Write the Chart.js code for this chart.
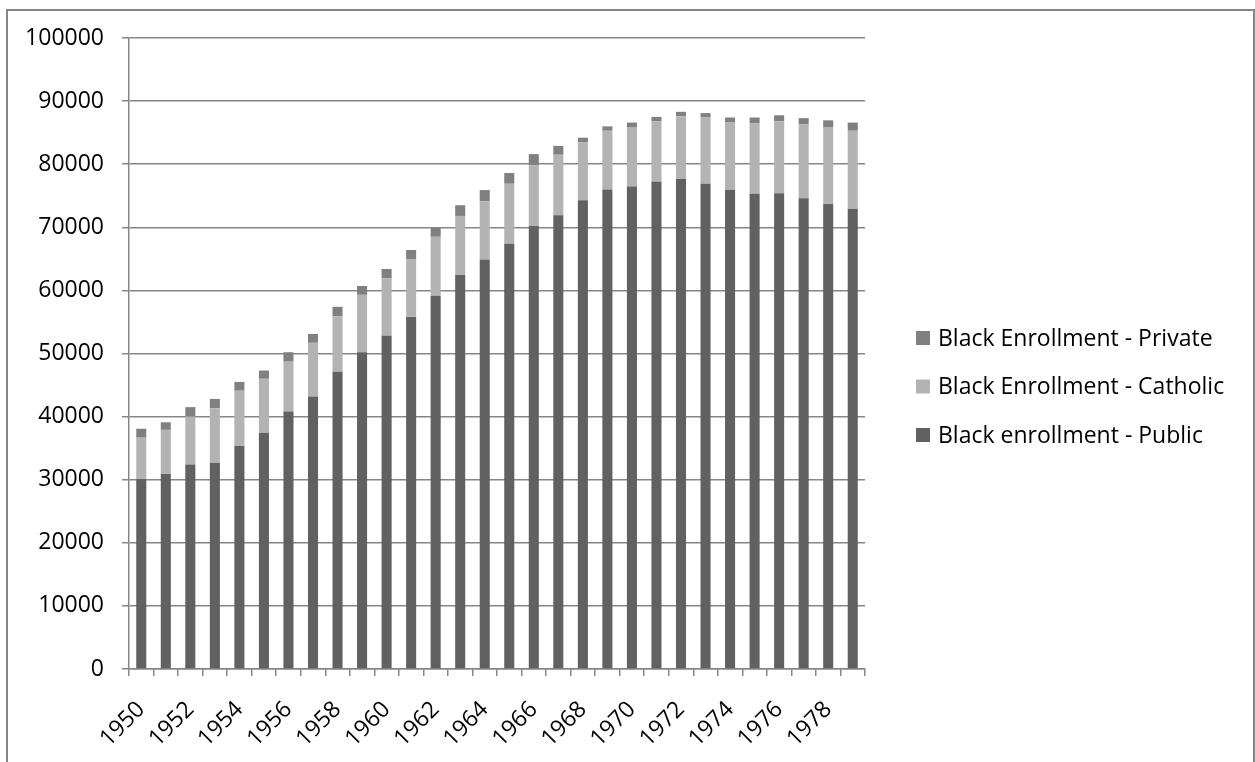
<!DOCTYPE html>
<html>
<head>
<meta charset="utf-8">
<script src="https://cdn.jsdelivr.net/npm/chart.js@4"></script>
<style>
  html, body { margin: 0; padding: 0; background: #ffffff; }
  #wrap { position: relative; width: 1255px; height: 762px; }
  canvas { display: block; }
</style>
</head>
<body>
<div id="wrap"><canvas id="c" width="1255" height="762"></canvas></div>
<script>
const years = ['1950','1951','1952','1953','1954','1955','1956','1957','1958','1959',
  '1960','1961','1962','1963','1964','1965','1966','1967','1968','1969',
  '1970','1971','1972','1973','1974','1975','1976','1977','1978','1979'];

const publicVals = [30100,30900,32400,32700,35400,37450,40800,43200,47100,50200,
  52800,55800,59150,62500,64900,67400,70200,71900,74300,76000,
  76450,77200,77650,76900,75950,75300,75400,74600,73700,72950];

const catholicVals = [6560,7000,7600,8600,8700,8550,7900,8500,8800,9100,
  9100,9100,9350,9300,9200,9500,9600,9600,9200,9300,
  9350,9600,9950,10500,10650,11200,11400,11700,12100,12350];

const privateVals = [1420,1200,1500,1500,1400,1300,1500,1400,1500,1400,
  1500,1500,1400,1700,1800,1700,1800,1400,700,700,
  800,700,700,700,800,900,950,1000,1150,1300];

const seriesNames = ['Black enrollment - Public','Black Enrollment - Catholic','Black Enrollment - Private'];
const seriesColors = ['#616161','#b3b3b3','#808080'];

const FONT = '"Open Sans"';
const FSIZE = 23;
const gray = '#868686';

const frameAndLegend = {
  id: 'frameAndLegend',
  beforeDraw(chart) {
    const ctx = chart.ctx;
    ctx.save();
    ctx.fillStyle = '#ffffff';
    ctx.fillRect(0, 0, chart.width, chart.height);
    ctx.restore();
  },
  afterDraw(chart) {
    const ctx = chart.ctx;
    ctx.save();
    ctx.strokeStyle = gray;
    ctx.lineWidth = 2;
    ctx.strokeRect(7, 10, 1247, 800);
    const ds = chart.data.datasets;
    const n = ds.length;
    ctx.font = FSIZE + 'px ' + FONT;
    ctx.textBaseline = 'middle';
    ctx.textAlign = 'left';
    for (let k = 0; k < n; k++) {
      const d = ds[n - 1 - k];
      const y = 338 + k * 48.5;
      ctx.fillStyle = d.backgroundColor;
      ctx.fillRect(916, y - 7, 14, 14);
      ctx.fillStyle = '#000000';
      ctx.fillText(d.label, 938, y + 1);
    }
    ctx.restore();
  }
};

new Chart(document.getElementById('c'), {
  type: 'bar',
  data: {
    labels: years,
    datasets: [
      { label: seriesNames[0], data: publicVals, backgroundColor: seriesColors[0] },
      { label: seriesNames[1], data: catholicVals, backgroundColor: seriesColors[1] },
      { label: seriesNames[2], data: privateVals, backgroundColor: seriesColors[2] }
    ]
  },
  options: {
    responsive: false,
    animation: false,
    devicePixelRatio: 1,
    layout: { padding: { left: 0, top: 38, right: 390, bottom: 0 } },
    datasets: { bar: { barPercentage: 0.41, categoryPercentage: 1.0 } },
    scales: {
      x: {
        stacked: true,
        grid: { drawOnChartArea: false, drawTicks: true, tickLength: 7, color: gray, lineWidth: 1.5, offset: true },
        border: { color: gray, width: 1.5 },
        ticks: {
          autoSkip: false, maxRotation: 45, minRotation: 45, color: '#000000',
          font: { family: FONT, size: FSIZE }, padding: 20,
          callback: (v, i) => (i % 2 === 0 ? years[i] : '')
        },
        afterFit: s => { s.height = 93; }
      },
      y: {
        stacked: true, min: 0, max: 100000,
        ticks: { stepSize: 10000, color: '#000000', font: { family: FONT, size: FSIZE }, padding: 18,
          callback: v => String(v) },
        grid: { color: gray, lineWidth: 1.5, tickLength: 7 },
        border: { color: gray, width: 1.5 },
        afterFit: s => { s.width = 129; }
      }
    },
    plugins: { legend: { display: false }, tooltip: { enabled: false } }
  },
  plugins: [frameAndLegend]
});
</script>
</body>
</html>
